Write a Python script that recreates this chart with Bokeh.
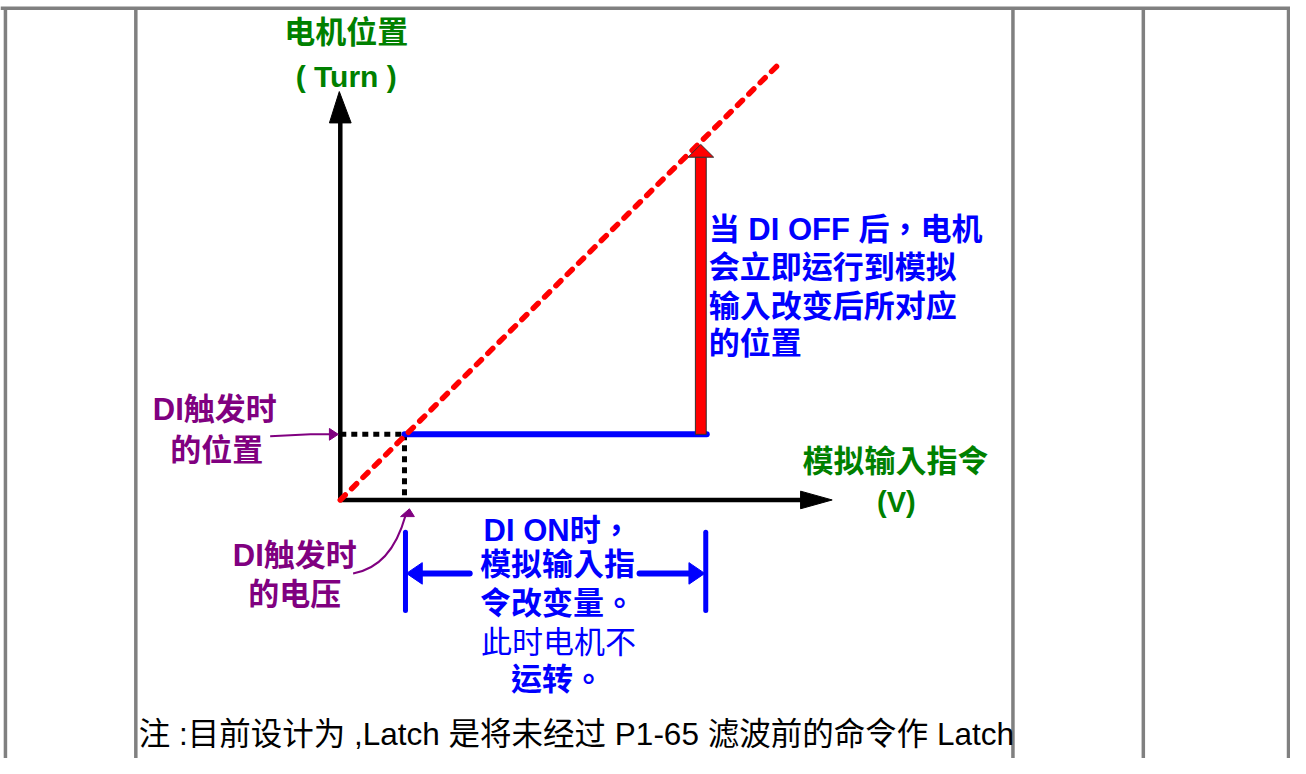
from bokeh.plotting import figure
from bokeh.models import Range1d
from bokeh.core.properties import value
from bokeh.embed import file_html
from bokeh.resources import INLINE

# ---------------- diagram values (x: analog command, y: motor position) ----------------
ramp_v = [0, 443]          # dashed reference ramp (command -> position)
ramp_pos = [0, 444]
latch_v = 65               # voltage when DI triggers
latch_pos = 67             # position when DI triggers
cmd_v_after = 371          # analog command after change (end of blue segment)
motor_v = 365              # where the motor jumps after DI OFF
motor_pos_after = 363      # position reached after DI OFF (arrow tip)
x_axis_end = 498
y_axis_end = 417
table_cols = [-339, -207, 681, 813, 960]
table_top = 502

# ---------------- texts ----------------
y_title = ["电机位置", "( Turn )"]
x_title = ["模拟输入指令", "(V)"]
lbl_latch_pos = ["DI触发时", "的位置"]
lbl_latch_v = ["DI触发时", "的电压"]
lbl_on = ["DI ON时，", "模拟输入指", "令改变量。", "此时电机不", "运转。"]
lbl_off = ["当 DI OFF 后，电机", "会立即运行到模拟", "输入改变后所对应", "的位置"]
footer = "注 :目前设计为 ,Latch 是将未经过 P1-65 滤波前的命令作 Latch"

FONT = value("'Liberation Sans', 'Noto Sans CJK TC', sans-serif")
GREEN = "#008000"
PURPLE = "#800080"
BLUE = "#0000FF"
RED = "#FF0000"
GRAY = "#808080"

p = figure(width=1290, height=758, output_backend="svg", toolbar_location=None,
           x_range=Range1d(-344, 962), y_range=Range1d(-264, 510),
           min_border=0, title=None, x_axis_location=None, y_axis_location=None)
p.grid.visible = False
p.outline_line_color = None
p.background_fill_color = "white"
p.border_fill_color = "white"

# table frame
for cx in table_cols:
    p.segment(x0=cx, y0=-264, x1=cx, y1=table_top, line_color=GRAY, line_width=3.5)
p.segment(x0=-344, y0=table_top, x1=962, y1=table_top, line_color=GRAY, line_width=3.5)

# axes with arrow heads
p.segment(x0=0, y0=0, x1=x_axis_end - 30, y1=0, line_color="black", line_width=4.5)
p.patch(x=[x_axis_end - 32, x_axis_end, x_axis_end - 32], y=[9, 0, -9], color="black")
p.segment(x0=0, y0=0, x1=0, y1=y_axis_end - 30, line_color="black", line_width=4.5)
p.patch(x=[-11, -1, 11], y=[y_axis_end - 32, y_axis_end, y_axis_end - 32], color="black")

# black dashed guides
p.line(x=[0, latch_v], y=[latch_pos, latch_pos], line_color="black", line_width=5,
       line_dash="6 5")
p.line(x=[latch_v, latch_v], y=[latch_pos, 0], line_color="black", line_width=5,
       line_dash="6 5")

# blue: position held while DI ON
p.line(x=[latch_v, cmd_v_after], y=[latch_pos, latch_pos], line_color=BLUE,
       line_width=6, line_cap="round")

# red dashed ramp
p.line(x=ramp_v, y=ramp_pos, line_color=RED, line_width=5.5, line_dash="7 9",
       line_cap="round")

# red jump arrow
p.quad(left=motor_v - 5.5, right=motor_v + 5.5, bottom=latch_pos,
       top=motor_pos_after - 13, fill_color=RED, line_color="#303030", line_width=1)
p.patch(x=[motor_v - 13, motor_v, motor_v + 13],
        y=[motor_pos_after - 13, motor_pos_after, motor_pos_after - 13],
        fill_color=RED, line_color="#303030", line_width=1)

# blue dimension arrows
for dx in [latch_v + 1, cmd_v_after - 1]:
    p.segment(x0=dx, y0=-33, x1=dx, y1=-113, line_color=BLUE, line_width=5,
              line_cap="round")
p.segment(x0=131, y0=-75, x1=latch_v + 14, y1=-75, line_color=BLUE, line_width=6,
          line_cap="round")
p.patch(x=[latch_v + 18, latch_v + 2, latch_v + 18], y=[-64, -75, -86], color=BLUE)
p.segment(x0=303, y0=-75, x1=cmd_v_after - 14, y1=-75, line_color=BLUE, line_width=6,
          line_cap="round")
p.patch(x=[cmd_v_after - 18, cmd_v_after - 2, cmd_v_after - 18], y=[-64, -75, -86],
        color=BLUE)

# purple pointer arrows
p.line(x=[-71, -30, -9], y=[65, 67, 67], line_color=PURPLE, line_width=2)
p.patch(x=[-11, -2, -11], y=[73, 67, 61], color=PURPLE)
p.bezier(x0=13, y0=-75, x1=66, y1=-16, cx0=42, cy0=-70, cx1=58, cy1=-45,
         line_color=PURPLE, line_width=2)
p.patch(x=[61, 70, 75], y=[-17, -9, -17], color=PURPLE)

def txt(xs, ys, texts, color, size, style="bold", align="center", font=FONT):
    p.text(x=xs, y=ys, text=texts, text_color=color, text_font=font,
           text_font_size=value(size), text_font_style=style,
           text_align=align, text_baseline="middle")

# axis titles
txt([6], [477], [y_title[0]], GREEN, "31px")
txt([6], [432], [y_title[1]], GREEN, "30px")
txt([562], [39], [x_title[0]], GREEN, "31px")
txt([563], [-2], [x_title[1]], GREEN, "29px")

# purple labels
txt([-127, -125], [92, 50], lbl_latch_pos, PURPLE, "31px")
txt([-46, -46], [-57, -97], lbl_latch_v, PURPLE, "31px")

# blue labels
txt([220, 220, 220], [-31, -66, -106], lbl_on[:3], BLUE, "31px")
txt([221], [-146], [lbl_on[3]], BLUE, "31px", style="normal")
txt([220], [-183], [lbl_on[4]], BLUE, "31px")
txt([373] * 4, [276, 237, 198, 160], lbl_off, BLUE, "31px", align="left")

# footer note
txt([-204], [-239], [footer], "black", "31.5px", style="normal", align="left")

open("out.html", "w").write(file_html(p, INLINE))
